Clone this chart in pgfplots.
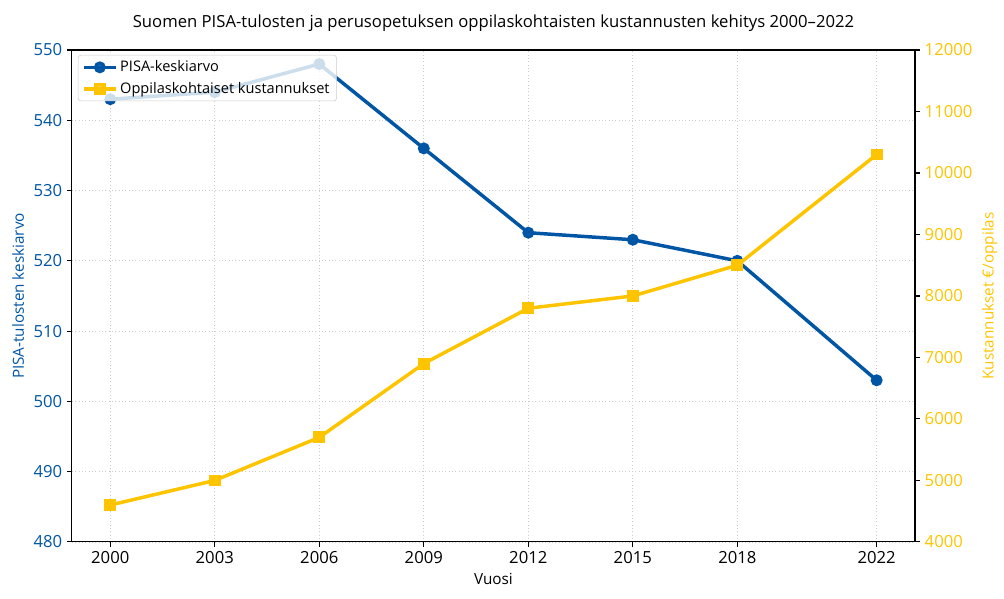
\documentclass[border=0pt]{standalone}
\usepackage{pgfplots}
\pgfplotsset{compat=1.18}
\usepackage{fontspec}
\setmainfont{Open Sans}
\definecolor{pblue}{RGB}{0,85,164}
\definecolor{pgold}{RGB}{255,196,0}
\definecolor{gridc}{RGB}{204,204,204}
\begin{document}
\begin{tikzpicture}
\useasboundingbox (-51.8pt,-40.4pt) rectangle (671.1pt,390.2pt);
\pgfplotsset{
  every axis/.append style={
    scale only axis, width=607pt, height=354.2pt,
    xmin=1998.9, xmax=2023.1,
    tick align=outside, major tick length=3.5pt,
    tick style={black, line width=0.8pt},
    axis line style={line width=0.8pt},
    tick label style={font=\fontsize{12}{14}\selectfont},
    /pgf/number format/assume math mode=true,
    /pgf/number format/1000 sep={},
    scaled ticks=false,
  }
}
\begin{axis}[
  xtick pos=bottom, ytick pos=left,
  xtick={2000,2003,2006,2009,2012,2015,2018,2022},
  xticklabels={2000,2003,2006,2009,2012,2015,2018,2022},
  ymin=480, ymax=550, ytick={480,490,...,550},
  yticklabel style={text=pblue},
  grid=major, grid style={gridc, dotted, line width=0.6pt},
  xlabel={Vuosi}, ylabel={PISA-tulosten keskiarvo},
  label style={font=\fontsize{11}{13}\selectfont},
  ylabel style={text=pblue},
  title={Suomen PISA-tulosten ja perusopetuksen oppilaskohtaisten kustannusten kehitys 2000–2022},
  title style={font=\fontsize{12}{14}\selectfont, yshift=4pt},
]
\addplot[pblue, line width=2.5pt, mark=*, mark size=3pt] coordinates {
(2000,543) (2003,544) (2006,548) (2009,536) (2012,524) (2015,523) (2018,520) (2022,503)};
\end{axis}
\begin{axis}[
  axis y line*=right, axis x line=none,
  ymin=4000, ymax=12000, ytick={4000,5000,...,12000},
  yticklabel style={text=pgold},
  ylabel={Kustannukset €/oppilas},
  ylabel style={text=pgold, font=\fontsize{11}{13}\selectfont},
  legend style={at={(0.007,0.99)}, anchor=north west, fill=white, fill opacity=0.8, text opacity=1, draw opacity=1, draw=gridc, rounded corners=2pt, font=\fontsize{10.5}{12.5}\selectfont, row sep=2pt},
  legend cell align=left,
  legend image code/.code={\draw[mark repeat=2,mark phase=2] plot coordinates {(0cm,0cm) (0.4cm,0cm) (0.8cm,0cm)};},
]
\addlegendimage{pblue, line width=2.5pt, mark=*, mark size=3pt}
\addlegendentry{PISA-keskiarvo}
\addplot[pgold, line width=2.5pt, mark=square*, mark size=3pt] coordinates {
(2000,4600) (2003,5000) (2006,5700) (2009,6900) (2012,7800) (2015,8000) (2018,8500) (2022,10300)};
\addlegendentry{Oppilaskohtaiset kustannukset}
\end{axis}
\end{tikzpicture}
\end{document}
